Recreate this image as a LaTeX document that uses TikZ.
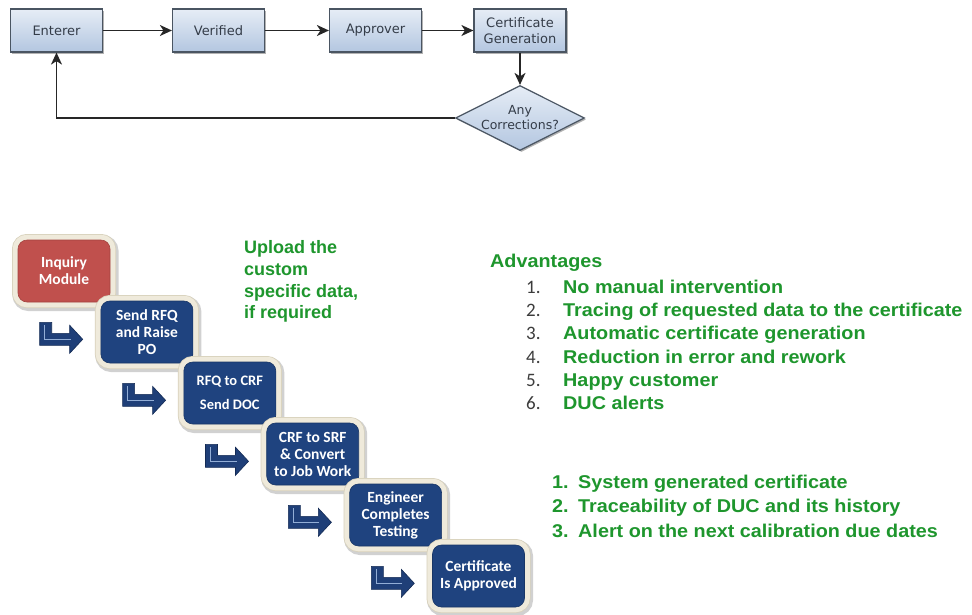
\documentclass[tikz,border=0pt]{standalone}
\usepackage{fontspec}
\setmainfont{DejaVu Sans}
\newfontfamily\flowfont{DejaVu Sans}
\newfontfamily\stepfont{Carlito}
\newfontfamily\numfont{Carlito}
\newfontfamily\notefont{Liberation Sans}[FakeStretch=1.07]
\newfontfamily\plainnote{Liberation Sans}
\usetikzlibrary{arrows.meta, shapes.geometric, shadows, calc}

\definecolor{boxtop}{HTML}{E6EDF6}
\definecolor{boxbot}{HTML}{B3C6E0}
\definecolor{boxline}{HTML}{4A5562}
\definecolor{flowtext}{HTML}{343C48}
\definecolor{stepblue}{HTML}{1F437F}
\definecolor{stepred}{HTML}{C0504D}
\definecolor{cream}{HTML}{EFEADB}
\definecolor{creamedge}{HTML}{D8D1BC}
\definecolor{arrowblue}{HTML}{1F3F78}
\definecolor{arrowdark}{HTML}{142B55}
\definecolor{arrowhi}{HTML}{93AED6}
\definecolor{notegreen}{RGB}{30,150,45}
\definecolor{numgray}{HTML}{3C3C3C}

\tikzset{
  flowbox/.style={rectangle, draw=boxline, line width=1.2pt,
    top color=boxtop, bottom color=boxbot,
    minimum width=92pt, minimum height=43pt, inner sep=2pt,
    align=center, text=flowtext,
    font=\flowfont\fontsize{13}{15.5}\selectfont,
    drop shadow={shadow xshift=1.5pt, shadow yshift=-1.5pt, opacity=0.3, fill=black}},
  decision/.style={diamond, draw=boxline, line width=1.2pt,
    top color=boxtop, bottom color=boxbot,
    minimum width=129pt, minimum height=65pt, inner sep=0pt,
    drop shadow={shadow xshift=1.5pt, shadow yshift=-1.5pt, opacity=0.3, fill=black}},
  flowlabel/.style={align=center, text=flowtext, inner sep=0pt,
    font=\flowfont\fontsize{12.5}{15}\selectfont},
  flow/.style={-{Stealth[length=12pt,width=11pt,inset=3.5pt]}, line width=1.5pt, draw=black!85},
  stepbox/.style={rectangle, rounded corners=9pt,
    minimum width=92pt, minimum height=62pt, inner sep=2pt,
    align=center, text=white,
    font=\stepfont\bfseries\fontsize{15.5}{17}\selectfont,
    preaction={draw=black, opacity=0.18, line width=14pt,
      transform canvas={shift={(1.5pt,-2pt)}}},
    preaction={draw=creamedge, line width=12pt},
    preaction={draw=cream, line width=10.5pt},
    fill=stepblue, draw=stepblue!80!black, line width=0.6pt},
  note/.style={font=\notefont\bfseries\fontsize{18.5}{22}\selectfont,
    text=notegreen, inner sep=0pt, anchor=base west},
  uploadnote/.style={font=\plainnote\bfseries\fontsize{18}{22}\selectfont,
    text=notegreen, inner sep=0pt, anchor=base west},
  numlabel/.style={font=\numfont\fontsize{19}{22}\selectfont,
    text=numgray, inner sep=0pt, anchor=base west},
  pics/bentarrow/.style={code={
    \filldraw[fill=arrowblue, draw=arrowdark, line width=0.6pt, line join=miter]
      (0,0) -- (12,0) -- (12,11) -- (30,11) -- (30,3) -- (43,17)
      -- (30,31) -- (30,23) -- (0,23) -- cycle;
    \draw[arrowhi, line width=1.1pt] (5,3) -- (5,17.5) -- (31,17.5);
  }}
}

\begin{document}
\begin{tikzpicture}[x=1pt,y=-1pt]
\useasboundingbox (0,0) rectangle (972,614);
\fill[white] (0,0) rectangle (972,614);

% certificate workflow
\node[flowbox] (ent)  at (56.5,30.5) {Enterer};
\node[flowbox] (ver)  at (218.5,30.5) {Verified};
\node[flowbox] (app)  at (375.5,30.5) {Approver};
\node[flowbox] (cert) at (520,30.5) {Certificate\\Generation};
\node[decision] (dec) at (520,118) {};
\node[flowlabel] (dectext) at (520,118) {Any\\Corrections?};

\draw[flow] (ent) -- (ver);
\draw[flow] (ver) -- (app);
\draw[flow] (app) -- (cert);
\draw[flow] (cert) -- (dec);
\draw[flow] (dec.west) -| (ent.south);

% process steps
\node[stepbox, fill=stepred, draw=stepred!85!black] (b1) at (64,271) {Inquiry\\Module};
\pic at ($(b1.south west)+(22,20)$) {bentarrow};
\node[stepbox] (b2) at (146.9,332) {Send RFQ\\and Raise\\PO};
\pic at ($(b2.south west)+(22,20)$) {bentarrow};
\node[stepbox, font=\stepfont\bfseries\fontsize{14.5}{17}\selectfont] (b3) at (229.8,393) {RFQ to CRF\\[7pt]Send DOC};
\pic at ($(b3.south west)+(22,20)$) {bentarrow};
\node[stepbox] (b4) at (312.7,454) {CRF to SRF\\\& Convert\\to Job Work};
\pic at ($(b4.south west)+(22,20)$) {bentarrow};
\node[stepbox] (b5) at (395.6,515) {Engineer\\Completes\\Testing};
\pic at ($(b5.south west)+(22,20)$) {bentarrow};
\node[stepbox] (b6) at (478.5,576) {Certificate\\Is Approved};

% upload remark
\node[uploadnote] (up1) at (244,253) {Upload the};
\node[uploadnote] (up2) at (244,275) {custom};
\node[uploadnote] (up3) at (244,297) {specific data,};
\node[uploadnote] (up4) at (244,318) {if required};

% advantages
\node[note] (adv) at (490,267) {Advantages};
\node[numlabel] (n1) at (526,293) {1.};
\node[note] (a1) at (563,293) {No manual intervention};
\node[numlabel] (n2) at (526,316) {2.};
\node[note] (a2) at (563,316) {Tracing of requested data to the certificate};
\node[numlabel] (n3) at (526,339.5) {3.};
\node[note] (a3) at (563,339.5) {Automatic certificate generation};
\node[numlabel] (n4) at (526,363) {4.};
\node[note] (a4) at (563,363) {Reduction in error and rework};
\node[numlabel] (n5) at (526,386) {5.};
\node[note] (a5) at (563,386) {Happy customer};
\node[numlabel] (n6) at (526,409) {6.};
\node[note] (a6) at (563,409) {DUC alerts};

% system features
\node[note] (s1n) at (552,488) {1.};
\node[note] (s1) at (578,488) {System generated certificate};
\node[note] (s2n) at (552,512.5) {2.};
\node[note] (s2) at (578,512.5) {Traceability of DUC and its history};
\node[note] (s3n) at (552,537) {3.};
\node[note] (s3) at (578,537) {Alert on the next calibration due dates};
\end{tikzpicture}
\end{document}
